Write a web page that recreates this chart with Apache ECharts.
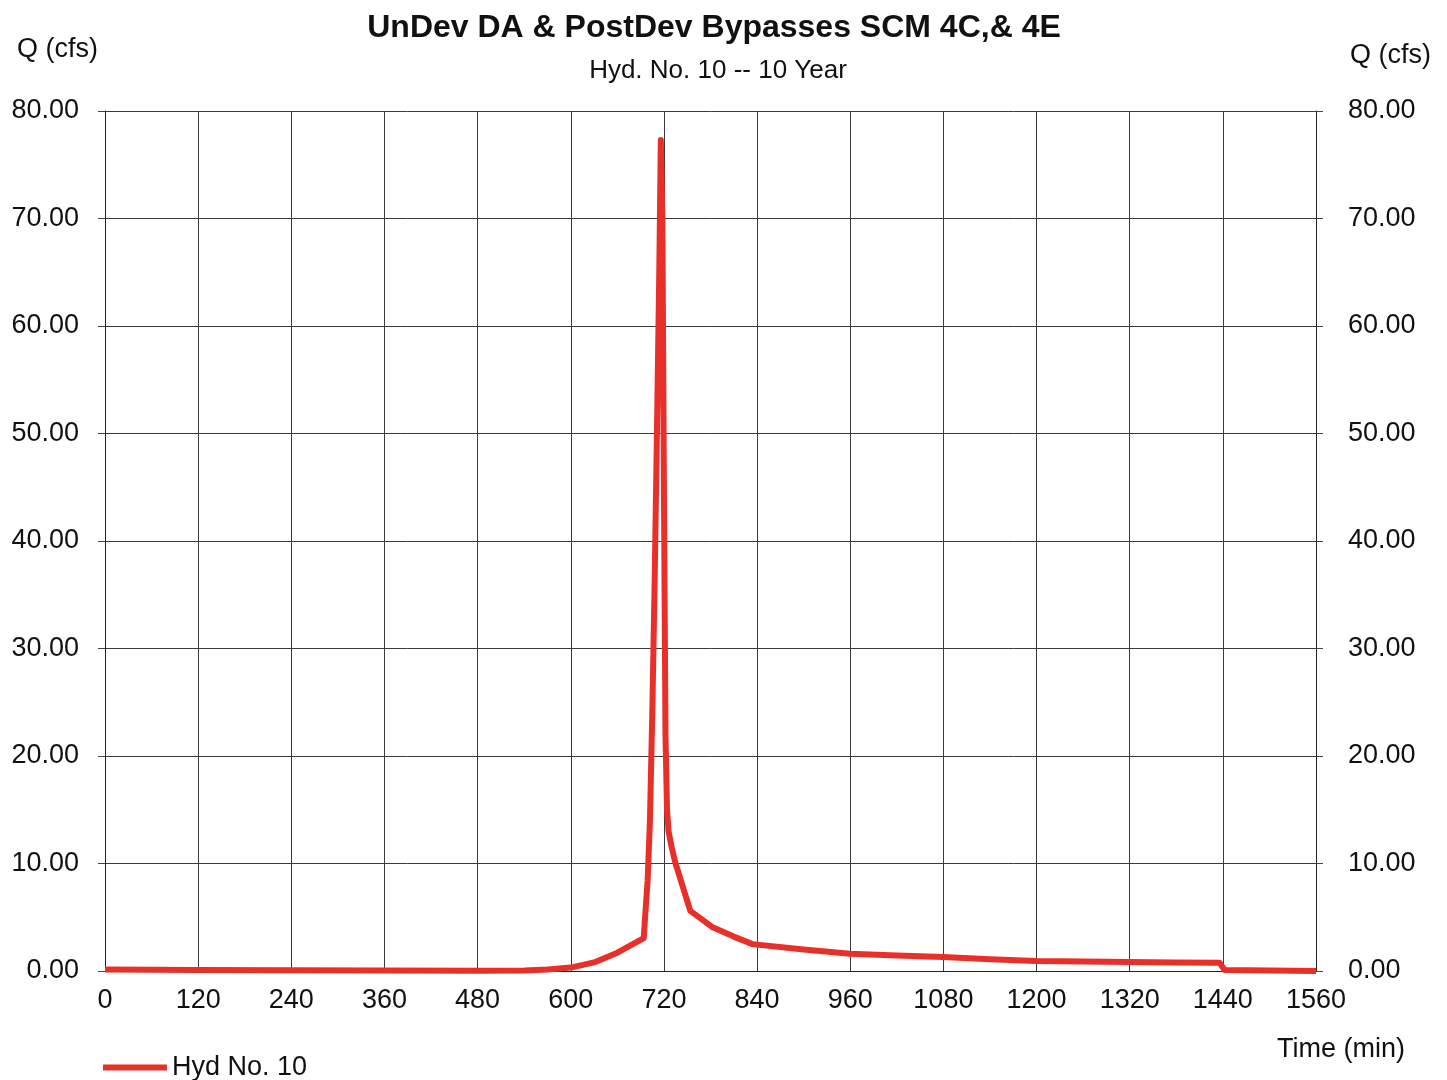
<!DOCTYPE html>
<html>
<head>
<meta charset="utf-8">
<script src="https://cdn.jsdelivr.net/npm/echarts@6/dist/echarts.min.js"></script>
<style>
html,body{margin:0;padding:0;background:#fff;}
#chart{width:1447px;height:1080px;}
</style>
</head>
<body>
<div id="chart"></div>
<script>
const times = [0, 120, 240, 360, 480, 540, 570, 600, 630, 660, 680, 694, 696, 699, 702, 705, 708, 711, 714, 716, 718, 720, 722, 724, 726, 730, 735, 754, 782, 810, 834, 900, 960, 1020, 1080, 1140, 1200, 1260, 1320, 1380, 1436, 1442, 1444, 1560];
const flows = [0.15, 0.10, 0.06, 0.04, 0.03, 0.05, 0.14, 0.32, 0.80, 1.70, 2.50, 3.05, 5.3, 8.4, 14.0, 24.0, 36.0, 50.0, 65.0, 77.3, 70.0, 45.0, 22.0, 15.0, 13.0, 11.5, 10.0, 5.6, 4.1, 3.2, 2.5, 2.0, 1.6, 1.45, 1.3, 1.1, 0.93, 0.88, 0.84, 0.80, 0.76, 0.10, 0.0, 0.0];
const xTicks = [0, 120, 240, 360, 480, 600, 720, 840, 960, 1080, 1200, 1320, 1440, 1560];
const yTicks = [0, 10, 20, 30, 40, 50, 60, 70, 80];
const seriesName = 'Hyd No. 10';
const titleText = 'UnDev DA & PostDev Bypasses SCM 4C,& 4E';
const subtitleText = 'Hyd. No. 10 -- 10 Year';

const chart = echarts.init(document.getElementById('chart'), null, {renderer: 'canvas'});
const FONT = '"Liberation Sans", Arial, sans-serif';
const data = times.map((t, i) => [t, flows[i]]);

const yAxisCommon = {
  type: 'value', min: yTicks[0], max: yTicks[yTicks.length - 1], interval: 10,
  axisLine: {show: true, lineStyle: {color: '#222', width: 1}},
  axisTick: {show: true, length: 7, lineStyle: {color: '#444'}},
  splitLine: {show: true, lineStyle: {color: '#3a3a3a', width: 1}},
  axisLabel: {formatter: v => v.toFixed(2), fontFamily: FONT, fontSize: 27, color: '#111'}
};

chart.setOption({
  animation: false,
  backgroundColor: '#fff',
  grid: {left: 105, right: 131, top: 111, bottom: 109, containLabel: false},
  title: [
    {text: titleText, left: 709, top: 7, textAlign: 'center',
     textStyle: {fontFamily: FONT, fontSize: 32, fontWeight: 'bold', color: '#111'}},
    {text: subtitleText, left: 713, top: 53, textAlign: 'center',
     textStyle: {fontFamily: FONT, fontSize: 26, fontWeight: 'normal', color: '#111'}}
  ],
  graphic: [
    {type: 'text', left: 17, top: 36, style: {text: 'Q (cfs)', font: '27px ' + FONT, fill: '#111'}},
    {type: 'text', left: 1350, top: 42, style: {text: 'Q (cfs)', font: '27px ' + FONT, fill: '#111'}},
    {type: 'text', left: 1277, top: 1036, style: {text: 'Time (min)', font: '27px ' + FONT, fill: '#111'}}
  ],
  legend: {
    show: true, left: 98, top: 1049, itemWidth: 64, itemHeight: 6, itemGap: 12,
    icon: 'rect',
    textStyle: {fontFamily: FONT, fontSize: 27, color: '#111'},
    data: [seriesName]
  },
  xAxis: {
    type: 'value', min: xTicks[0], max: xTicks[xTicks.length - 1], interval: 120,
    axisLine: {show: true, onZero: false, lineStyle: {color: '#222', width: 1}},
    axisTick: {show: false},
    splitLine: {show: true, lineStyle: {color: '#3a3a3a', width: 1}},
    axisLabel: {formatter: v => String(v), fontFamily: FONT, fontSize: 27, color: '#111', margin: 16}
  },
  yAxis: [
    Object.assign({}, yAxisCommon, {position: 'left', axisLabel: Object.assign({}, yAxisCommon.axisLabel, {margin: 26})}),
    Object.assign({}, yAxisCommon, {position: 'right', splitLine: {show: false}, axisLabel: Object.assign({}, yAxisCommon.axisLabel, {margin: 32})})
  ],
  series: [{
    name: seriesName, type: 'line', yAxisIndex: 0, data: data,
    showSymbol: false, symbol: 'none',
    lineStyle: {color: '#e8302a', width: 6, join: 'round'},
    itemStyle: {color: '#e8302a'}
  }]
});
</script>
</body>
</html>
